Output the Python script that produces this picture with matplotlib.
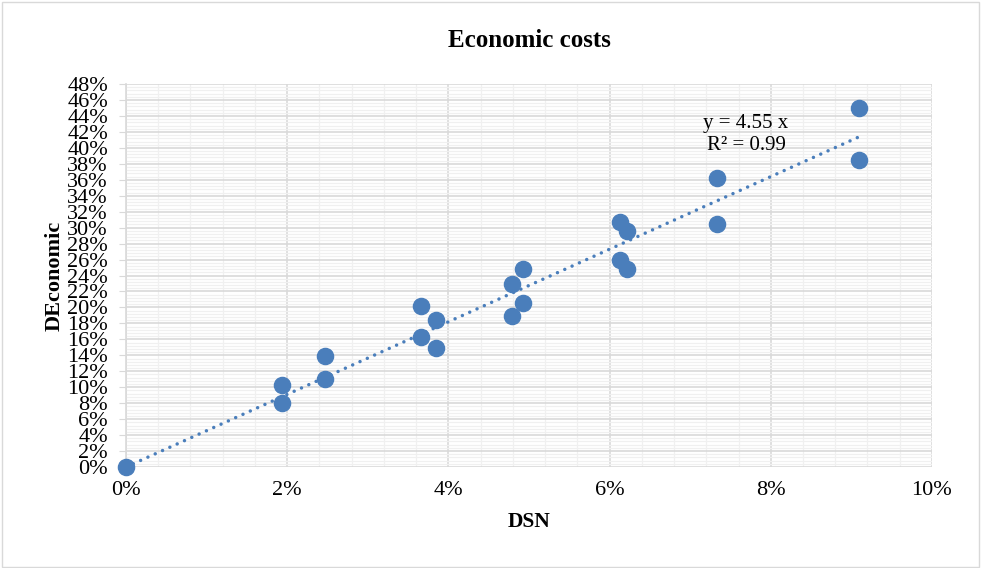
import numpy as np
import matplotlib.pyplot as plt
from matplotlib.ticker import PercentFormatter, MultipleLocator
from matplotlib.patches import Rectangle

plt.rcParams['font.family'] = ['Liberation Serif', 'DejaVu Serif']

# data (fractions)
dsn = [0.0, 0.0193, 0.0193, 0.0247, 0.0247, 0.0366, 0.0366, 0.0385, 0.0385,
       0.0479, 0.0479, 0.0493, 0.0493, 0.0613, 0.0613, 0.0622, 0.0622,
       0.0733, 0.0733, 0.0910, 0.0910]
deco = [0.0, 0.103, 0.080, 0.139, 0.110, 0.202, 0.163, 0.184, 0.149,
        0.229, 0.189, 0.248, 0.206, 0.307, 0.259, 0.296, 0.248,
        0.362, 0.305, 0.450, 0.385]
slope = 4.55
r2 = 0.99

blue = '#4a7ebb'

fig = plt.figure(figsize=(9.81, 5.68), dpi=100)
fig.patches.append(Rectangle((0.002, 0.002), 0.996, 0.995, transform=fig.transFigure,
                             fill=False, edgecolor='#d9d9d9', linewidth=1))
ax = fig.add_axes([0.1284, 0.1778, 0.8216, 0.6742])

ax.set_xlim(0, 0.10)
ax.set_ylim(0, 0.48)
ax.xaxis.set_major_locator(MultipleLocator(0.02))
ax.xaxis.set_minor_locator(MultipleLocator(0.004))
ax.yaxis.set_major_locator(MultipleLocator(0.02))
ax.yaxis.set_minor_locator(MultipleLocator(0.004))
ax.xaxis.set_major_formatter(PercentFormatter(1.0, decimals=0))
ax.yaxis.set_major_formatter(PercentFormatter(1.0, decimals=0))

ax.grid(which='major', color='#d9d9d9', linewidth=1.2)
ax.grid(which='minor', color='#f0f0f0', linewidth=0.9)
ax.set_axisbelow(True)

for s in ['top', 'right', 'bottom']:
    ax.spines[s].set_visible(False)
ax.spines['left'].set_color('#d9d9d9')
ax.spines['left'].set_linewidth(1.2)
ax.tick_params(axis='x', which='both', length=0, labelsize=16, pad=10)
ax.tick_params(axis='y', which='major', length=5, color='#d9d9d9', labelsize=16, pad=8)
ax.tick_params(axis='y', which='minor', length=0)

# trend line
xt = np.array([0.0, max(dsn)])
ax.plot(xt, slope * xt, linestyle=(0, (0.01, 2.3)), color=blue, linewidth=2.5,
        dash_capstyle='round', zorder=2)

ax.scatter(dsn, deco, s=135, color=blue, zorder=3, clip_on=False)

ax.text(0.0716, 0.431, f'y = {slope} x', fontsize=15, ha='left', va='center')
ax.text(0.0721, 0.403, f'R² = {r2}', fontsize=15, ha='left', va='center')

ax.set_title('Economic costs', fontsize=18, fontweight='bold', pad=27)
ax.set_xlabel('DSN', fontsize=15.5, fontweight='bold', labelpad=9)
ax.set_ylabel('DEconomic', fontsize=16, fontweight='bold', labelpad=2)

fig.savefig('out.png', dpi=100)
